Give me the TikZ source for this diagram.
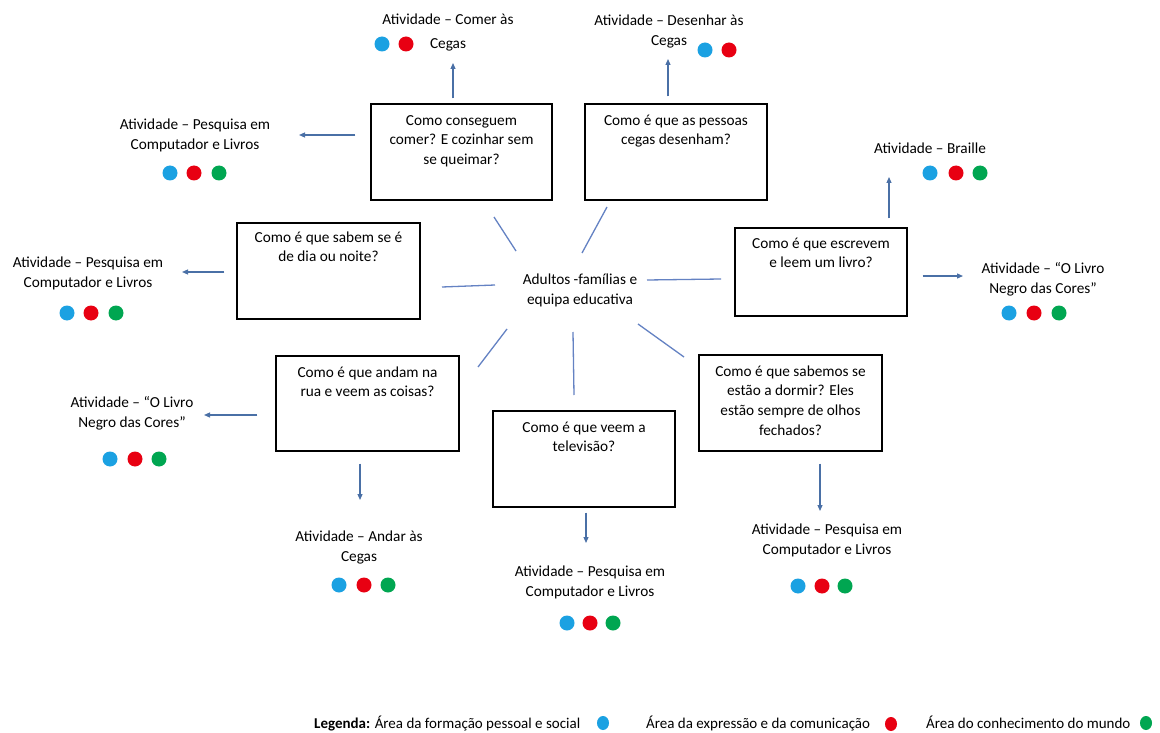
\documentclass[tikz,border=0pt]{standalone}
\usepackage{fontspec}
\setmainfont{Carlito}
\usetikzlibrary{arrows.meta,calc}
\definecolor{dotblue}{RGB}{27,161,226}
\definecolor{dotred}{RGB}{232,0,18}
\definecolor{dotgreen}{RGB}{0,166,81}
\definecolor{arrowblue}{RGB}{74,112,166}
\definecolor{linkblue}{RGB}{100,130,195}
\newcommand\twoline[2]{\strut#1\\\strut#2}
\begin{document}
\begin{tikzpicture}[x=1pt,y=-1pt,
  qbox/.style={draw=black,line width=1.3pt,inner sep=0pt},
  qtext/.style={font=\fontsize{15.3}{19.6}\selectfont,align=center,inner sep=0pt,anchor=north},
  act/.style={font=\fontsize{15.3}{20}\selectfont,align=center,inner sep=0pt},
  arr/.style={draw=arrowblue,line width=1.2pt,-{Triangle[length=6pt,width=5pt]}},
  link/.style={draw=linkblue,line width=1.3pt},
  leg/.style={font=\fontsize{15}{18}\selectfont,inner sep=0pt,anchor=base west}]
\fill[white] (0,0) rectangle (1160,733);
\useasboundingbox (0,0) rectangle (1160,733);

% question boxes
\node[qbox,minimum width=181pt,minimum height=96pt] (q1) at (461.5,152) {};
\node[qtext] (q1t) at ($(q1.north)+(0,8)$) {\strut Como conseguem\\comer? E cozinhar sem\\se queimar?};
\node[qbox,minimum width=182pt,minimum height=96pt] (q2) at (676,152) {};
\node[qtext] (q2t) at ($(q2.north)+(0,8)$) {\strut Como é que as pessoas\\cegas desenham?};
\node[qbox,minimum width=183pt,minimum height=96pt] (q3) at (328.5,271) {};
\node[qtext] (q3t) at ($(q3.north)+(0,6)$) {\strut Como é que sabem se é\\de dia ou noite?};
\node[qbox,minimum width=172pt,minimum height=88pt] (q4) at (821,272) {};
\node[qtext] (q4t) at ($(q4.north)+(0,7)$) {\strut Como é que escrevem\\e leem um livro?};
\node[qbox,minimum width=183pt,minimum height=95pt] (q5) at (367.5,403.5) {};
\node[qtext] (q5t) at ($(q5.north)+(0,8)$) {\strut Como é que andam na\\rua e veem as coisas?};
\node[qbox,minimum width=182pt,minimum height=96pt] (q6) at (584,459) {};
\node[qtext] (q6t) at ($(q6.north)+(0,8)$) {\strut Como é que veem a\\televisão?};
\node[qbox,minimum width=183pt,minimum height=96pt] (q7) at (790.5,403) {};
\node[qtext] (q7t) at ($(q7.north)+(0,8)$) {\strut Como é que sabemos se\\estão a dormir? Eles\\estão sempre de olhos\\fechados?};

% centre
\node[act] (c) at (580,290) {\twoline{Adultos -famílias e}{equipa educativa}};

% activities
\node[act] (a1) at (448,32.5) {\strut Atividade – Comer às\\[4pt]\strut Cegas};
\node[act] (a2) at (669,31.5) {\twoline{Atividade – Desenhar às}{Cegas}};
\node[act] (a3) at (195,136) {\twoline{Atividade – Pesquisa em}{Computador e Livros}};
\node[act] (a4) at (930,149.5) {\strut Atividade – Braille};
\node[act] (a5) at (88,273.5) {\twoline{Atividade – Pesquisa em}{Computador e Livros}};
\node[act] (a6) at (1043,279) {\twoline{Atividade – “O Livro}{Negro das Cores”}};
\node[act] (a7) at (132,413.5) {\twoline{Atividade – “O Livro}{Negro das Cores”}};
\node[act] (a8) at (359,547.5) {\twoline{Atividade – Andar às}{Cegas}};
\node[act] (a9) at (590,582.5) {\twoline{Atividade – Pesquisa em}{Computador e Livros}};
\node[act] (a10) at (827,540.5) {\twoline{Atividade – Pesquisa em}{Computador e Livros}};

% dots
\foreach \x/\c in {382/dotblue,406/dotred} \fill[\c] (\x,44) circle[radius=7.5];
\foreach \x/\c in {705/dotblue,729/dotred} \fill[\c] (\x,50) circle[radius=7.5];
\foreach \x/\c in {170/dotblue,194/dotred,219/dotgreen} \fill[\c] (\x,173) circle[radius=7.5];
\foreach \x/\c in {930/dotblue,956/dotred,980/dotgreen} \fill[\c] (\x,173) circle[radius=7.5];
\foreach \x/\c in {67/dotblue,91/dotred,116/dotgreen} \fill[\c] (\x,313) circle[radius=7.5];
\foreach \x/\c in {1009/dotblue,1034/dotred,1059/dotgreen} \fill[\c] (\x,313) circle[radius=7.5];
\foreach \x/\c in {110/dotblue,135/dotred,159/dotgreen} \fill[\c] (\x,459) circle[radius=7.5];
\foreach \x/\c in {339/dotblue,364/dotred,388/dotgreen} \fill[\c] (\x,585) circle[radius=7.5];
\foreach \x/\c in {567/dotblue,590/dotred,613/dotgreen} \fill[\c] (\x,623) circle[radius=7.5];
\foreach \x/\c in {798/dotblue,822/dotred,845/dotgreen} \fill[\c] (\x,586) circle[radius=7.5];

% links from centre
\draw[link] ($(c.center)+(-138,-3)$) -- ($(c.center)+(-85,-5)$);
\draw[link] ($(c.center)+(67,-10)$) -- ($(c.center)+(141,-11)$);
\draw[link] ($(c.center)+(-86,-73)$) -- ($(c.center)+(-64,-39)$);
\draw[link] ($(c.center)+(27,-83)$) -- ($(c.center)+(2,-37)$);
\draw[link] ($(c.center)+(-73,39)$) -- ($(c.center)+(-102,77)$);
\draw[link] ($(c.center)+(-7,42)$) -- ($(c.center)+(-6,105)$);
\draw[link] ($(c.center)+(58,34)$) -- ($(c.center)+(104,67)$);

% arrows to activities
\draw[arr] ($(q1.north)+(-8.5,-5)$) -- ($(a1.center)+(5,30.5)$);
\draw[arr] ($(q2.north)+(-8,-7)$) -- ($(a2.center)+(-1,27.5)$);
\draw[arr] ($(q1.west)+(-15,-17)$) -- ($(a3.center)+(104,-1)$);
\draw[arr] ($(q4.north)+(68,-9)$) -- ($(a4.center)+(-41,27.5)$);
\draw[arr] ($(q3.west)+(-12,1)$) -- ($(a5.center)+(94,-1.5)$);
\draw[arr] ($(q4.east)+(15,4)$) -- ($(a6.center)+(-80,-3)$);
\draw[arr] ($(q5.west)+(-18,11.5)$) -- ($(a7.center)+(72,1.5)$);
\draw[arr] ($(q5.south)+(-7.5,12)$) -- ($(a8.center)+(1,-47.5)$);
\draw[arr] ($(q6.south)+(2,5)$) -- ($(a9.center)+(-4,-39.5)$);
\draw[arr] ($(q7.south)+(29.5,12)$) -- ($(a10.center)+(-7,-29.5)$);

% legend
\node[leg] (l1) at (314,728) {\textbf{Legenda:} Área da formação pessoal e social};
\fill[dotblue] (603,723) ellipse[x radius=6,y radius=7];
\node[leg] (l2) at (646,728) {Área da expressão e da comunicação};
\fill[dotred] (891,724) ellipse[x radius=6,y radius=7];
\node[leg] (l3) at (926,728) {Área do conhecimento do mundo};
\fill[dotgreen] (1146,723) ellipse[x radius=6,y radius=7];
\end{tikzpicture}
\end{document}
